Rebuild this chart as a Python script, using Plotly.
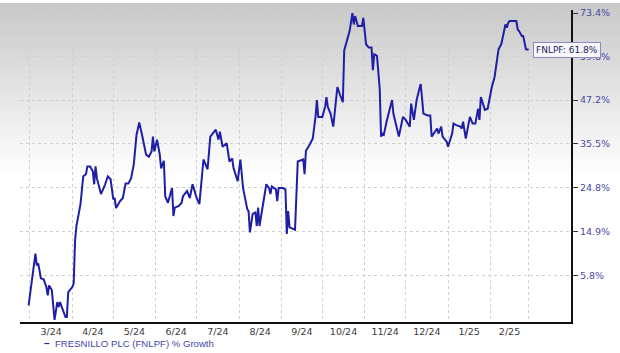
import numpy as np
import pandas as pd
import plotly.graph_objects as go

# ---------------- data ----------------
dates = [
    "2024-02-29", "2024-03-05", "2024-03-06", "2024-03-07", "2024-03-08", "2024-03-09",
    "2024-03-11", "2024-03-13", "2024-03-14", "2024-03-15", "2024-03-17", "2024-03-18",
    "2024-03-19", "2024-03-21", "2024-03-22", "2024-03-23", "2024-03-25", "2024-03-27",
    "2024-03-28", "2024-03-29", "2024-04-01", "2024-04-02", "2024-04-03", "2024-04-04",
    "2024-04-07", "2024-04-09", "2024-04-11", "2024-04-12", "2024-04-14", "2024-04-16",
    "2024-04-17", "2024-04-18", "2024-04-19", "2024-04-22", "2024-04-25", "2024-04-27",
    "2024-04-29", "2024-05-01", "2024-05-02", "2024-05-03", "2024-05-06", "2024-05-08",
    "2024-05-10", "2024-05-12", "2024-05-14", "2024-05-16", "2024-05-18", "2024-05-20",
    "2024-05-22", "2024-05-25", "2024-05-27", "2024-05-29", "2024-05-30", "2024-05-31",
    "2024-06-02", "2024-06-04", "2024-06-05", "2024-06-07", "2024-06-08", "2024-06-10",
    "2024-06-13", "2024-06-14", "2024-06-15", "2024-06-18", "2024-06-20", "2024-06-21",
    "2024-06-24", "2024-06-26", "2024-06-28", "2024-07-01", "2024-07-03", "2024-07-06",
    "2024-07-09", "2024-07-11", "2024-07-15", "2024-07-17", "2024-07-18", "2024-07-20",
    "2024-07-23", "2024-07-25", "2024-07-27", "2024-07-28", "2024-07-31", "2024-08-02",
    "2024-08-04", "2024-08-07", "2024-08-08", "2024-08-09", "2024-08-11", "2024-08-13",
    "2024-08-14", "2024-08-15", "2024-08-16", "2024-08-21", "2024-08-23", "2024-08-24",
    "2024-08-25", "2024-08-28", "2024-08-29", "2024-08-30", "2024-09-02", "2024-09-04",
    "2024-09-05", "2024-09-06", "2024-09-07", "2024-09-11", "2024-09-13", "2024-09-16",
    "2024-09-17", "2024-09-18", "2024-09-19", "2024-09-22", "2024-09-24", "2024-09-26",
    "2024-09-27", "2024-09-28", "2024-10-01", "2024-10-03", "2024-10-04", "2024-10-05",
    "2024-10-07", "2024-10-09", "2024-10-12", "2024-10-14", "2024-10-16", "2024-10-17",
    "2024-10-21", "2024-10-23", "2024-10-24", "2024-10-25", "2024-10-27", "2024-10-30",
    "2024-10-31", "2024-11-02", "2024-11-04", "2024-11-06", "2024-11-07", "2024-11-08",
    "2024-11-10", "2024-11-12", "2024-11-13", "2024-11-14", "2024-11-15", "2024-11-17",
    "2024-11-21", "2024-11-22", "2024-11-24", "2024-11-26", "2024-11-29", "2024-12-01",
    "2024-12-04", "2024-12-05", "2024-12-07", "2024-12-09", "2024-12-11", "2024-12-12",
    "2024-12-14", "2024-12-17", "2024-12-19", "2024-12-20", "2024-12-24", "2024-12-25",
    "2024-12-27", "2024-12-28", "2024-12-31", "2025-01-01", "2025-01-04", "2025-01-05",
    "2025-01-07", "2025-01-10", "2025-01-11", "2025-01-12", "2025-01-14", "2025-01-17",
    "2025-01-19", "2025-01-21", "2025-01-23", "2025-01-24", "2025-01-25", "2025-01-28",
    "2025-01-30", "2025-02-02", "2025-02-04", "2025-02-07", "2025-02-09", "2025-02-12",
    "2025-02-13", "2025-02-14", "2025-02-15", "2025-02-20", "2025-02-21", "2025-02-22",
    "2025-02-24", "2025-02-25", "2025-02-27", "2025-03-01",
]
growth_pct = [
    0.0, 10.2, 7.8, 8.2, 6.8, 5.2,
    5.0, 3.5, 1.9, 3.8, 2.9, 0.6,
    -2.7, 0.6, -0.3, 0.6, -0.9, -2.2,
    -2.2, 2.5, 3.5, 4.2, 12.9, 16.1,
    21.0, 27.5, 28.0, 29.9, 29.9, 28.7,
    25.6, 29.9, 27.0, 23.3, 25.6, 27.5,
    26.8, 22.1, 22.4, 20.1, 21.7, 22.4,
    25.8, 25.8, 27.0, 30.4, 37.9, 41.1,
    37.9, 32.8, 32.3, 33.6, 37.4, 33.6,
    36.6, 32.8, 29.4, 31.3, 22.8, 21.3,
    24.7, 18.3, 20.2, 20.6, 21.3, 22.8,
    24.0, 22.4, 25.6, 22.4, 21.0, 31.6,
    29.2, 37.4, 39.2, 36.6, 38.7, 34.8,
    35.7, 31.1, 31.9, 29.5, 26.3, 31.6,
    24.7, 19.9, 19.4, 14.7, 18.8, 19.1,
    16.1, 20.2, 16.1, 25.6, 24.7, 23.3,
    25.1, 24.4, 21.7, 24.7, 24.7, 24.4,
    14.4, 19.4, 15.8, 15.3, 31.1, 31.6,
    31.6, 28.0, 33.8, 35.5, 36.9, 42.6,
    47.2, 42.6, 42.6, 45.3, 48.0, 45.3,
    43.5, 40.0, 50.8, 48.6, 46.6, 61.6,
    67.7, 73.4, 69.7, 72.4, 69.2, 69.2,
    71.8, 63.5, 62.5, 62.5, 55.7, 60.5,
    60.0, 50.3, 37.4, 38.2, 37.9, 41.3,
    47.2, 43.5, 40.0, 37.4, 42.6, 41.8,
    40.0, 46.2, 41.8, 47.2, 50.3, 51.7,
    43.5, 43.0, 43.0, 37.4, 39.5, 38.2,
    40.0, 37.4, 36.1, 34.8, 38.2, 40.8,
    40.4, 40.0, 39.5, 41.3, 36.9, 42.6,
    40.8, 40.8, 44.8, 41.8, 48.0, 44.5,
    44.8, 50.8, 53.6, 62.0, 63.5, 69.7,
    68.7, 70.2, 70.8, 70.8, 68.1, 67.6,
    66.1, 66.1, 62.0, 61.8,
]
series_name = "FRESNILLO PLC (FNLPF) % Growth"
ticker = "FNLPF"

month_starts = [
    "2024-03-01", "2024-04-01", "2024-05-01", "2024-06-01", "2024-07-01", "2024-08-01",
    "2024-09-01", "2024-10-01", "2024-11-01", "2024-12-01", "2025-01-01", "2025-02-01",
    "2025-03-01",
]
month_labels = ["3/24", "4/24", "5/24", "6/24", "7/24", "8/24", "9/24",
                "10/24", "11/24", "12/24", "1/25", "2/25"]
ytick_pct = [5.8, 14.9, 24.8, 35.5, 47.2, 59.8, 73.4]
ytick_labels = ["5.8%", "14.9%", "24.8%", "35.5%", "47.2%", "59.8%", "73.4%"]
x_range = ["2024-02-22 17:00", "2025-04-01"]
y_range_pct = [-3.1, 74.4]

# ---------------- layout constants ----------------
W, H = 620, 353
ML, MR, MT, MB = 20, 49, 7, 31
PW, PH = W - ML - MR, H - MT - MB

LINE_COLOR = "#1e1ea6"
GRID_COLOR = "#cfcfcf"

growth_factor = [1 + p / 100 for p in growth_pct]
ms = pd.to_datetime(month_starts)
mid_months = [ms[i] + (ms[i + 1] - ms[i]) / 2 for i in range(len(ms) - 1)]

fig = go.Figure()
fig.add_trace(go.Scatter(
    x=pd.to_datetime(dates), y=growth_factor, mode="lines",
    line=dict(color=LINE_COLOR, width=2), name=series_name, showlegend=False,
    hoverinfo="x+y",
))

# gradient background (gray at top fading to white); each band is drawn from
# its top all the way down so that no seams appear between bands
shapes = []
band = 4
GRAD_END = 180
for py in range(0, GRAD_END, band):
    mid = py + band / 2
    c = int(round(200 + 55 * min(mid / 175.0, 1.0)))
    shapes.append(dict(
        type="rect", xref="paper", yref="paper", layer="below",
        x0=-ML / PW, x1=(W - ML) / PW,
        y0=(H - MB - GRAD_END - 2) / PH, y1=(H - MB - py) / PH,
        fillcolor=f"rgb({c},{c},{c})", line=dict(width=0),
    ))

annotations = [
    dict(
        x=pd.to_datetime(dates[-1]), y=np.log10(growth_factor[-1]),
        xref="x", yref="y", xanchor="left", yanchor="middle", xshift=4,
        text=f"{ticker}: {growth_pct[-1]:.1f}%", showarrow=False,
        font=dict(family="DejaVu Sans", size=9, color="#1c1c5c"),
        bgcolor="#f8f8fc", bordercolor="#8a8ac8", borderwidth=1, borderpad=2,
    ),
    dict(
        x=(42 - ML) / PW, y=(H - MB - 344) / PH, xref="paper", yref="paper",
        xanchor="left", yanchor="middle", showarrow=False,
        text="<b>–</b>", font=dict(family="Liberation Sans", size=10, color="#2424a0"),
    ),
    dict(
        x=(53 - ML) / PW, y=(H - MB - 344) / PH, xref="paper", yref="paper",
        xanchor="left", yanchor="middle", showarrow=False,
        text=series_name, font=dict(family="Liberation Sans", size=9.6, color="#4646a8"),
    ),
]

fig.update_layout(
    width=W, height=H,
    margin=dict(l=ML, r=MR, t=MT, b=MB, pad=0),
    paper_bgcolor="white", plot_bgcolor="rgba(0,0,0,0)",
    shapes=shapes, annotations=annotations, showlegend=False,
    xaxis=dict(
        type="date", range=x_range,
        tickmode="array", tickvals=mid_months, ticktext=month_labels,
        ticks="", showgrid=False, zeroline=False,
        showline=True, linecolor="#111111", linewidth=2,
        tickfont=dict(family="DejaVu Sans", size=9.5, color="#3a3a3a"),
        minor=dict(tickmode="array", tickvals=list(ms), showgrid=True,
                   gridcolor=GRID_COLOR, griddash="dot", gridwidth=1, ticks=""),
    ),
    yaxis=dict(
        type="log", side="right",
        range=[np.log10(1 + y_range_pct[0] / 100), np.log10(1 + y_range_pct[1] / 100)],
        tickmode="array", tickvals=[1 + p / 100 for p in ytick_pct], ticktext=ytick_labels,
        ticks="outside", ticklen=5, tickwidth=1, tickcolor="#333333",
        showgrid=True, gridcolor=GRID_COLOR, griddash="dot", gridwidth=1,
        zeroline=False, showline=True, linecolor="#111111", linewidth=2,
        tickfont=dict(family="DejaVu Sans", size=9.5, color="#4a4aa2"),
    ),
)

fig.write_html("out.html")
